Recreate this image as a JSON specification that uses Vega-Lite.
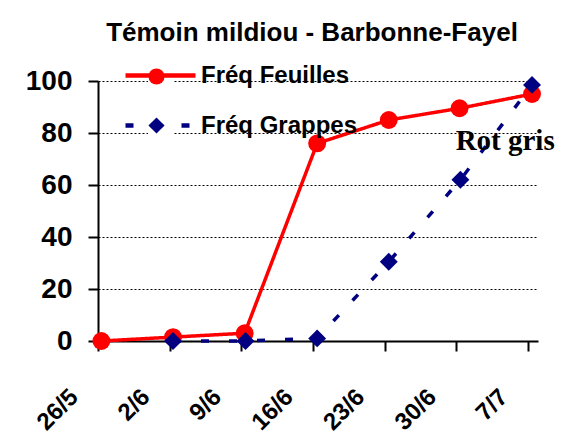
{
  "$schema": "https://vega.github.io/schema/vega-lite/v6.json",
  "width": 440,
  "height": 260,
  "autosize": "none",
  "padding": {"left": 98, "top": 81, "right": 32, "bottom": 107},
  "background": "white",
  "title": {"text": "Témoin mildiou - Barbonne-Fayel", "font": "Liberation Sans", "fontSize": 26, "fontWeight": "bold", "color": "black", "anchor": "middle", "frame": "group", "offset": -12, "dx": -6},
  "config": {
    "view": {"stroke": null},
    "axis": {"labelFont": "Liberation Sans", "labelFontWeight": "bold", "labelColor": "black", "domainColor": "black", "domainWidth": 2, "tickColor": "black", "tickWidth": 2, "title": null}
  },
  "datasets": {
    "obs": [
      {"date": "2003-05-26T08:00:00Z", "value": 0, "series": "Fréq Feuilles"},
      {"date": "2003-06-02T08:00:00Z", "value": 1.5, "series": "Fréq Feuilles"},
      {"date": "2003-06-09T08:00:00Z", "value": 3, "series": "Fréq Feuilles"},
      {"date": "2003-06-16T10:00:00Z", "value": 76, "series": "Fréq Feuilles"},
      {"date": "2003-06-23T10:00:00Z", "value": 85, "series": "Fréq Feuilles"},
      {"date": "2003-06-30T08:00:00Z", "value": 89.5, "series": "Fréq Feuilles"},
      {"date": "2003-07-07T10:00:00Z", "value": 95, "series": "Fréq Feuilles"},
      {"date": "2003-06-02T08:00:00Z", "value": 0, "series": "Fréq Grappes"},
      {"date": "2003-06-09T10:00:00Z", "value": 0, "series": "Fréq Grappes"},
      {"date": "2003-06-16T10:00:00Z", "value": 1, "series": "Fréq Grappes"},
      {"date": "2003-06-23T10:00:00Z", "value": 30.5, "series": "Fréq Grappes"},
      {"date": "2003-06-30T10:00:00Z", "value": 62, "series": "Fréq Grappes"},
      {"date": "2003-07-07T10:00:00Z", "value": 98.5, "series": "Fréq Grappes"}
    ],
    "notes": [
      {"date": "2003-07-04T19:00:00Z", "value": 73.5, "label": "Rot gris"}
    ]
  },
  "layer": [
    {
      "data": {"name": "obs"},
      "mark": {"type": "line", "strokeCap": "butt", "strokeWidth": 3.5},
      "encoding": {
        "x": {
          "field": "date", "type": "temporal",
          "scale": {"type": "utc", "domain": [{"year": 2003, "month": 5, "date": 26, "utc": true}, {"year": 2003, "month": 7, "date": 8, "utc": true}]},
          "axis": {
            "values": [
              {"year": 2003, "month": 5, "date": 26, "utc": true},
              {"year": 2003, "month": 6, "date": 2, "utc": true},
              {"year": 2003, "month": 6, "date": 9, "utc": true},
              {"year": 2003, "month": 6, "date": 16, "utc": true},
              {"year": 2003, "month": 6, "date": 23, "utc": true},
              {"year": 2003, "month": 6, "date": 30, "utc": true},
              {"year": 2003, "month": 7, "date": 7, "utc": true}
            ],
            "format": "%-d/%-m",
            "grid": false,
            "tickSize": 10,
            "labelAngle": -45,
            "labelAlign": "right",
            "labelBaseline": "middle",
            "labelFontSize": 24,
            "labelPadding": 42,
            "labelOffset": -24,
            "labelOverlap": false
          }
        },
        "y": {
          "field": "value", "type": "quantitative",
          "scale": {"domain": [0, 100], "nice": false},
          "axis": {"values": [0, 20, 40, 60, 80, 100], "grid": true, "gridColor": "black", "gridDash": [2, 2], "gridWidth": 1, "tickSize": 10, "labelFontSize": 28, "labelPadding": 16}
        },
        "color": {
          "field": "series", "type": "nominal",
          "scale": {"domain": ["Fréq Feuilles", "Fréq Grappes"], "range": ["#FF0000", "#000080"]},
          "legend": {
            "orient": "none", "legendX": 21, "legendY": -47, "title": null, "zindex": 2,
            "padding": 4, "symbolType": "stroke", "symbolSize": 4900, "symbolStrokeWidth": 4.5,
            "labelOffset": 3, "labelFont": "Liberation Sans", "labelFontSize": 24, "labelFontWeight": "bold", "labelColor": "black", "labelLimit": 0,
            "rowPadding": -18
          }
        },
        "strokeDash": {
          "field": "series", "type": "nominal",
          "scale": {"domain": ["Fréq Feuilles", "Fréq Grappes"], "range": [[1, 0], [8, 20]]},
          "legend": {
            "orient": "none", "legendX": 21, "legendY": -47, "title": null, "zindex": 2,
            "padding": 4, "symbolType": "stroke", "symbolSize": 4900, "symbolStrokeWidth": 4.5,
            "labelOffset": 3, "labelFont": "Liberation Sans", "labelFontSize": 24, "labelFontWeight": "bold", "labelColor": "black", "labelLimit": 0,
            "rowPadding": -18
          }
        }
      }
    },
    {
      "data": {"name": "obs"},
      "transform": [{"calculate": "datum.series", "as": "serie"}],
      "mark": {"type": "point", "filled": true, "opacity": 1, "size": 320, "strokeWidth": 0},
      "encoding": {
        "x": {"field": "date", "type": "temporal"},
        "y": {"field": "value", "type": "quantitative"},
        "fill": {
          "field": "serie", "type": "nominal",
          "scale": {"range": ["#FF0000", "#000080"]},
          "legend": {
            "orient": "none", "legendX": 50, "legendY": -13, "title": null, "zindex": 1,
            "fillColor": "white", "padding": 0, "symbolSize": 260, "symbolStrokeWidth": 0, "symbolOpacity": 1,
            "labelOffset": 8, "labelFont": "Liberation Sans", "labelFontSize": 16, "labelFontWeight": "bold", "labelLimit": 0,
            "labelExpr": "'\u00a0\u00a0\u00a0\u00a0\u00a0\u00a0\u00a0\u00a0\u00a0\u00a0\u00a0\u00a0\u00a0\u00a0\u00a0\u00a0\u00a0\u00a0\u00a0\u00a0\u00a0\u00a0\u00a0\u00a0\u00a0\u00a0\u00a0\u00a0\u00a0\u00a0\u00a0\u00a0\u00a0\u00a0\u00a0\u00a0\u00a0\u00a0\u00a0\u00a0\u00a0'",
            "rowPadding": 32
          }
        },
        "shape": {
          "field": "serie", "type": "nominal",
          "scale": {"range": ["circle", "diamond"]},
          "legend": {
            "orient": "none", "legendX": 50, "legendY": -13, "title": null, "zindex": 1,
            "fillColor": "white", "padding": 0, "symbolSize": 260, "symbolStrokeWidth": 0, "symbolOpacity": 1,
            "labelOffset": 8, "labelFont": "Liberation Sans", "labelFontSize": 16, "labelFontWeight": "bold", "labelLimit": 0,
            "labelExpr": "'\u00a0\u00a0\u00a0\u00a0\u00a0\u00a0\u00a0\u00a0\u00a0\u00a0\u00a0\u00a0\u00a0\u00a0\u00a0\u00a0\u00a0\u00a0\u00a0\u00a0\u00a0\u00a0\u00a0\u00a0\u00a0\u00a0\u00a0\u00a0\u00a0\u00a0\u00a0\u00a0\u00a0\u00a0\u00a0\u00a0\u00a0\u00a0\u00a0\u00a0\u00a0'",
            "rowPadding": 32
          }
        }
      }
    },
    {
      "data": {"name": "notes"},
      "mark": {"type": "text", "font": "Liberation Serif", "fontWeight": "bold", "fontSize": 29, "align": "center", "baseline": "alphabetic", "color": "black"},
      "encoding": {
        "x": {"field": "date", "type": "temporal"},
        "y": {"field": "value", "type": "quantitative"},
        "text": {"field": "label"}
      }
    }
  ]
}
